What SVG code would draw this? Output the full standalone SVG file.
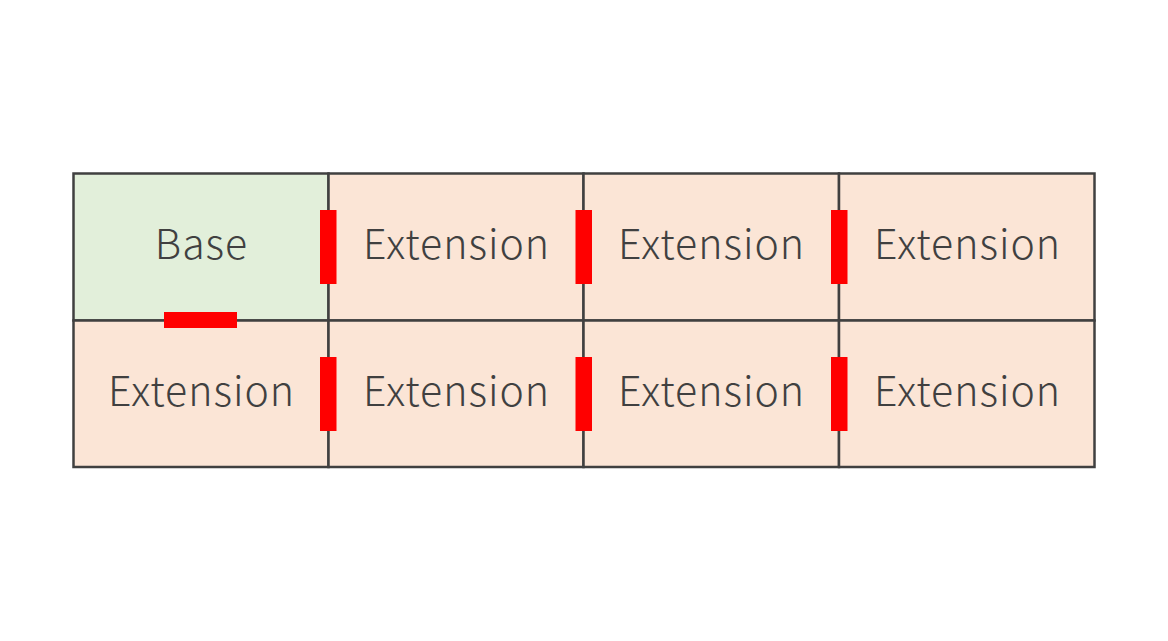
<svg xmlns="http://www.w3.org/2000/svg" width="1168" height="641" viewBox="0 0 1168 641">
<style>
.cell{stroke:#404040;stroke-width:2.5}
.base{fill:#e2efda}
.ext{fill:#fbe5d6}
.lbl{font-family:"Noto Sans CJK JP","Noto Sans",sans-serif;font-weight:300;font-size:41px;letter-spacing:1px;fill:#404040;text-anchor:middle}
.bar{fill:#ff0000}
</style>
<rect width="1168" height="641" fill="#ffffff"/>
<g id="cell-base"><rect class="cell base" x="73.5" y="173.5" width="255" height="147"/><text class="lbl" x="201.5" y="258.5">Base</text></g>
<g id="cell-ext-1"><rect class="cell ext" x="328.5" y="173.5" width="255" height="147"/><text class="lbl" x="456.5" y="258.5">Extension</text></g>
<g id="cell-ext-2"><rect class="cell ext" x="583.5" y="173.5" width="255.5" height="147"/><text class="lbl" x="711.5" y="258.5">Extension</text></g>
<g id="cell-ext-3"><rect class="cell ext" x="839" y="173.5" width="255.5" height="147"/><text class="lbl" x="967.5" y="258.5">Extension</text></g>
<g id="cell-ext-4"><rect class="cell ext" x="73.5" y="320.5" width="255" height="146.5"/><text class="lbl" x="201.5" y="405.5">Extension</text></g>
<g id="cell-ext-5"><rect class="cell ext" x="328.5" y="320.5" width="255" height="146.5"/><text class="lbl" x="456.5" y="405.5">Extension</text></g>
<g id="cell-ext-6"><rect class="cell ext" x="583.5" y="320.5" width="255.5" height="146.5"/><text class="lbl" x="711.5" y="405.5">Extension</text></g>
<g id="cell-ext-7"><rect class="cell ext" x="839" y="320.5" width="255.5" height="146.5"/><text class="lbl" x="967.5" y="405.5">Extension</text></g>
<g id="connectors">
<rect class="bar" x="320" y="210" width="16.5" height="74"/>
<rect class="bar" x="575.5" y="210" width="16.5" height="74"/>
<rect class="bar" x="831" y="210" width="16.5" height="74"/>
<rect class="bar" x="320" y="357" width="16.5" height="74"/>
<rect class="bar" x="575.5" y="357" width="16.5" height="74"/>
<rect class="bar" x="831" y="357" width="16.5" height="74"/>
<rect class="bar" x="164" y="312" width="73" height="16"/>
</g>
</svg>
